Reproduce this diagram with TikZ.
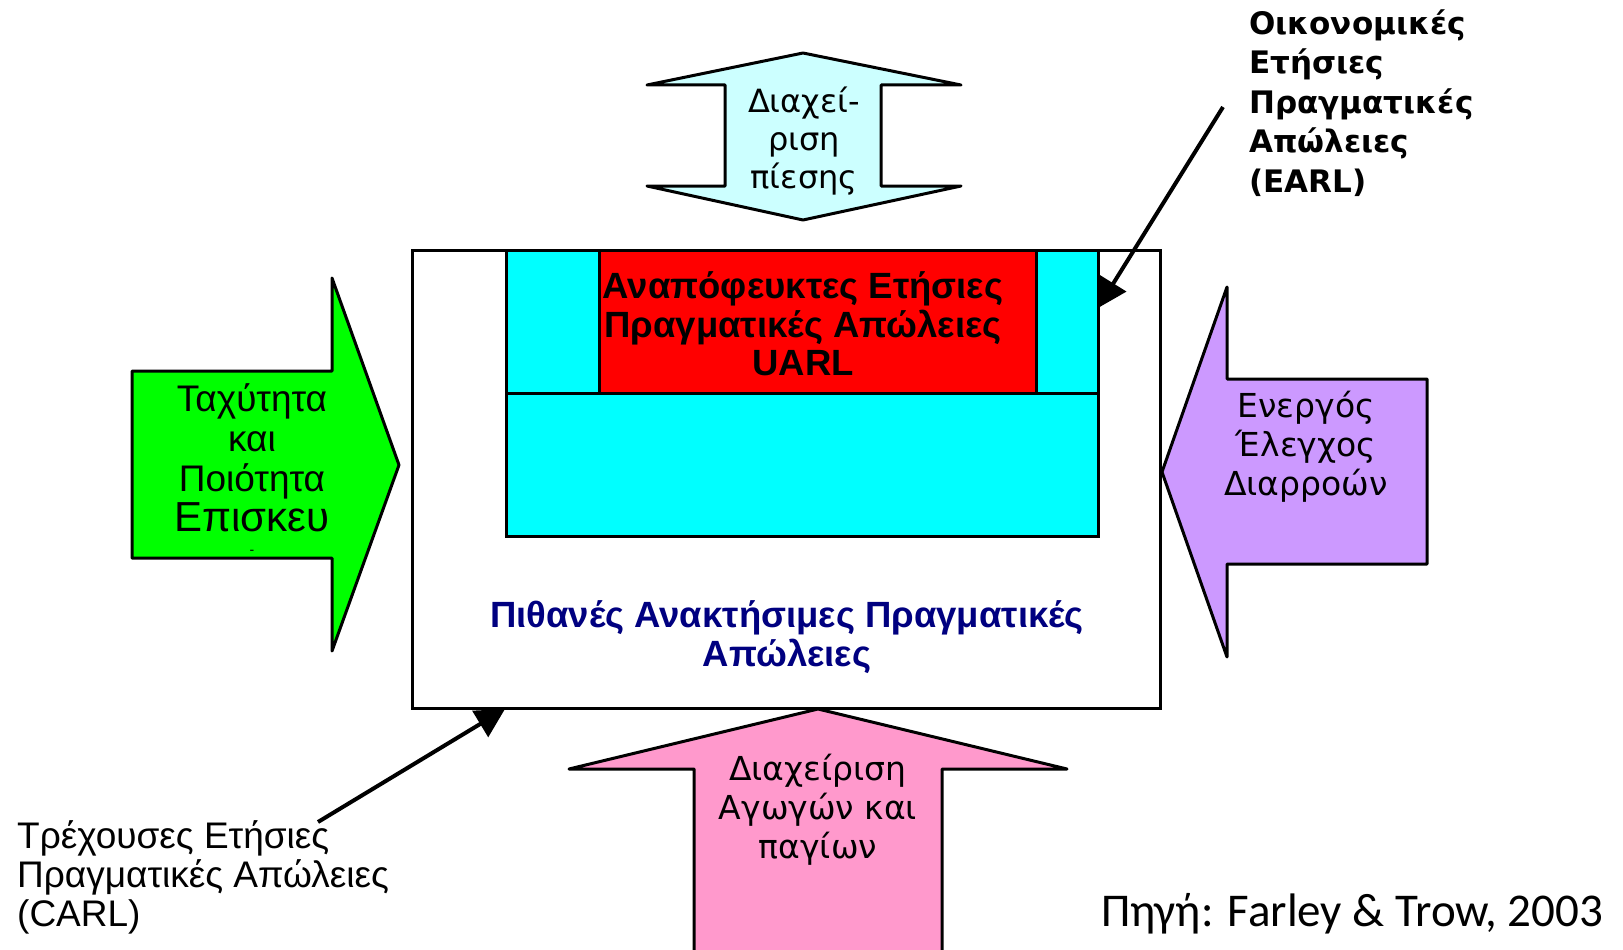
\documentclass[tikz,border=0pt]{standalone}
\usepackage{fontspec}
\setmainfont{Liberation Sans}
\newfontfamily\tahfont{DejaVu Sans}
\newfontfamily\calfont{Carlito}
\usetikzlibrary{arrows.meta}
\definecolor{grn}{RGB}{0,255,0}
\definecolor{cyn}{RGB}{0,255,255}
\definecolor{rd}{RGB}{255,0,0}
\definecolor{purp}{RGB}{204,153,255}
\definecolor{pnk}{RGB}{255,153,204}
\definecolor{lcyn}{RGB}{204,255,255}
\definecolor{navyb}{RGB}{0,0,128}
\begin{document}
\begin{tikzpicture}[x=1pt,y=-1pt,
  blockshape/.style={draw=black, line width=3pt, line join=round},
  boxline/.style={draw=black, line width=3pt},
  lbl/.style={align=center, inner sep=0pt},
  conn/.style={draw=black, line width=4pt, -{Triangle[length=29pt,width=30pt]}}]
\useasboundingbox[fill=white] (0,0) rectangle (1623,950);

% main box
\draw[boxline, fill=white] (412,250) rectangle (1160,708);
% cyan structure
\draw[boxline, fill=cyn] (506,250) rectangle (1098,536);
\draw[boxline] (506,393) -- (1098,393);
\draw[boxline, fill=rd] (599,250) rectangle (1036,393);

% top double arrow
\draw[blockshape, fill=lcyn] (803,53) -- (961,85) -- (881,85) -- (881,186) -- (961,186)
  -- (803,220) -- (647,186) -- (725,186) -- (725,85) -- (647,85) -- cycle;
% green arrow
\draw[blockshape, fill=grn] (132,371) -- (332,371) -- (332,278) -- (399,465) -- (332,651)
  -- (332,558) -- (132,558) -- cycle;
% purple arrow
\draw[blockshape, fill=purp] (1162,472) -- (1227,287) -- (1227,379) -- (1427,379)
  -- (1427,564) -- (1227,564) -- (1227,657) -- cycle;
% pink arrow
\draw[blockshape, fill=pnk] (818,709) -- (1067,769) -- (942,769) -- (942,960)
  -- (694,960) -- (694,769) -- (569,769) -- cycle;

% texts
\node[lbl, font=\fontsize{37}{40}\selectfont] (speed) at (252,458)
  {Ταχύτητα\\και\\Ποιότητα\\{\fontsize{42}{40}\selectfont Επισκευ}};
\node[lbl, font=\fontsize{14}{16}\selectfont] (dash) at (252,552) {-};
\node[lbl, font=\bfseries\fontsize{36.5}{38.5}\selectfont] (uarl) at (803,324)
  {Αναπόφευκτες Ετήσιες\\Πραγματικές Απώλειες\\UARL};
\node[lbl, text=navyb, font=\bfseries\fontsize{36.5}{39}\selectfont] (parl) at (787,637)
  {Πιθανές Ανακτήσιμες Πραγματικές\\Απώλειες};
\node[lbl, font=\tahfont\fontsize{32}{38}\selectfont] (press) at (804,141)
  {Διαχεί-\\ριση\\πίεσης};
\node[lbl, font=\tahfont\fontsize{33}{39}\selectfont] (alc) at (1306,447)
  {Ενεργός\\Έλεγχος\\Διαρροών};
\node[lbl, font=\tahfont\fontsize{33}{39}\selectfont] (assets) at (818,810)
  {Διαχείριση\\Αγωγών και\\παγίων};
\node[lbl, align=left, anchor=west, font=\tahfont\bfseries\fontsize{31}{39.5}\selectfont] (earl) at (1249,103)
  {Οικονομικές\\Ετήσιες\\Πραγματικές\\Απώλειες\\(EARL)};
\node[lbl, align=left, anchor=west, font=\fontsize{37}{39}\selectfont] (carl) at (17,877)
  {Τρέχουσες Ετήσιες\\Πραγματικές Απώλειες\\(CARL)};
\node[lbl, font=\calfont\fontsize{47}{50}\selectfont] (src) at (1352,914)
  {Πηγή: Farley \& Trow, 2003};

% connectors
\coordinate (earlS) at (1223,107);
\coordinate (earlT) at (1098,308);
\draw[conn] (earlS) -- (earlT);
\coordinate (carlS) at (318,822);
\coordinate (carlT) at (505,709);
\draw[conn] (carlS) -- (carlT);
\end{tikzpicture}
\end{document}
